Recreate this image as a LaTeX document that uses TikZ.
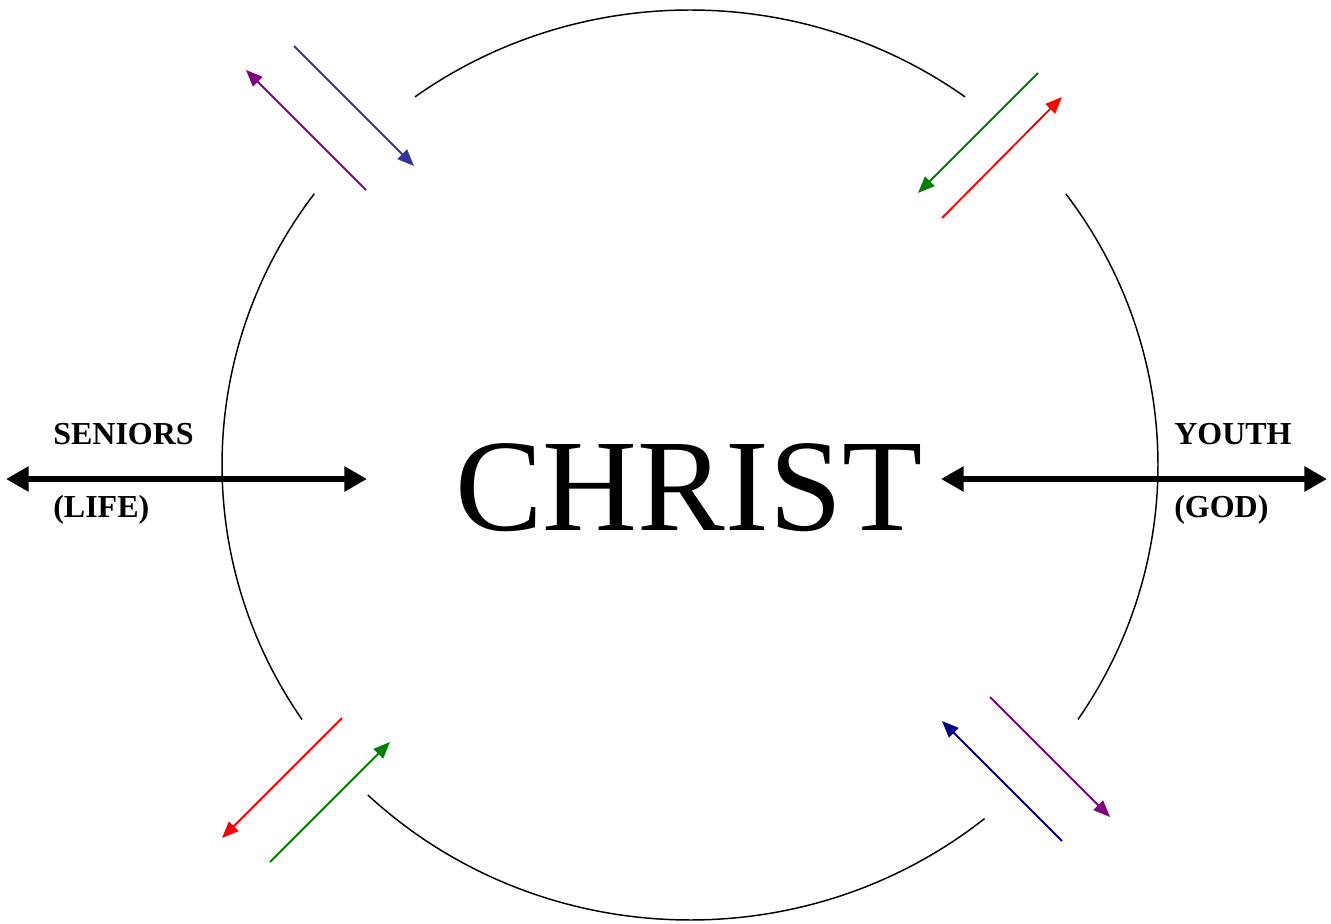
\documentclass[tikz,border=0pt]{standalone}
\usepackage{fontspec}
\setmainfont{Liberation Serif}
\usetikzlibrary{arrows.meta}
\definecolor{cblue}{HTML}{333399}
\definecolor{cpurple}{HTML}{800080}
\definecolor{cgreen}{HTML}{008000}
\definecolor{cred}{HTML}{FF0000}
\definecolor{cnavy}{HTML}{000080}
\begin{document}
\begin{tikzpicture}[x=0.75pt,y=-0.75pt,
  ring/.style={line width=1.1pt},
  thin arrow/.style={line width=1.4pt,-{Triangle[length=12.5pt,width=10pt]}},
  big arrow/.style={line width=5.2pt,{Triangle[length=17pt,width=18pt]}-{Triangle[length=17pt,width=18pt]}},
  lbl/.style={font=\fontsize{24}{24}\selectfont\bfseries,anchor=base west,inner sep=0pt}]
\useasboundingbox (0,0) rectangle (1331,924);
\coordinate (c) at (690,465);
% ring arcs
\draw[ring] ([shift={(-126:468 and 455)}]c) arc[start angle=-126,end angle=-54,x radius=468,y radius=455];
\draw[ring] ([shift={(-36.6:468 and 455)}]c) arc[start angle=-36.6,end angle=34,x radius=468,y radius=455];
\draw[ring] ([shift={(51:468 and 455)}]c) arc[start angle=51,end angle=133.5,x radius=468,y radius=455];
\draw[ring] ([shift={(146:468 and 455)}]c) arc[start angle=146,end angle=216.6,x radius=468,y radius=455];
% centre text
\node[font=\fontsize{98.5}{98.5}\selectfont,anchor=base west,inner sep=0pt] (christ) at (455,530) {CHRIST};
% side labels
\node[lbl] (seniors) at (53,444) {SENIORS};
\node[lbl] (life) at (53,517) {(LIFE)};
\node[lbl] (youth) at (1174,444) {YOUTH};
\node[lbl] (god) at (1174,517) {(GOD)};
% big arrows
\coordinate (la) at (6,479); \coordinate (lb) at (367,479);
\coordinate (ra) at (941,479); \coordinate (rb) at (1327,479);
\draw[big arrow] (la) -- (lb);
\draw[big arrow] (ra) -- (rb);
% top-left pair
\coordinate (tl1a) at (294,46); \coordinate (tl1b) at (414,166);
\coordinate (tl2a) at (366,190); \coordinate (tl2b) at (246,70);
\draw[thin arrow,cblue] (tl1a) -- (tl1b);
\draw[thin arrow,cpurple] (tl2a) -- (tl2b);
% top-right pair
\coordinate (tr1a) at (1038,73); \coordinate (tr1b) at (918,193);
\coordinate (tr2a) at (942,218); \coordinate (tr2b) at (1062,97);
\draw[thin arrow,cgreen] (tr1a) -- (tr1b);
\draw[thin arrow,cred] (tr2a) -- (tr2b);
% bottom-left pair
\coordinate (bl1a) at (342,718); \coordinate (bl1b) at (222,838);
\coordinate (bl2a) at (270,862); \coordinate (bl2b) at (390,742);
\draw[thin arrow,cred] (bl1a) -- (bl1b);
\draw[thin arrow,cgreen] (bl2a) -- (bl2b);
% bottom-right pair
\coordinate (br1a) at (990,697); \coordinate (br1b) at (1110,817);
\coordinate (br2a) at (1062,841); \coordinate (br2b) at (942,721);
\draw[thin arrow,cpurple] (br1a) -- (br1b);
\draw[thin arrow,cnavy] (br2a) -- (br2b);
\end{tikzpicture}
\end{document}
